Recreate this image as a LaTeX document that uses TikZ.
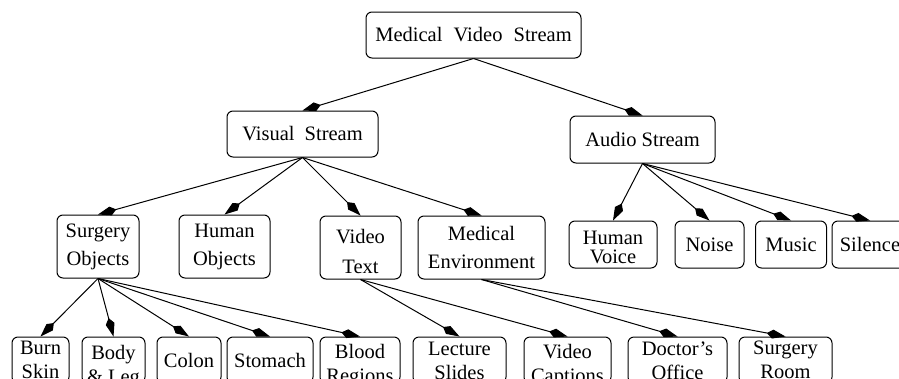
\documentclass[tikz,border=0pt]{standalone}
\usepackage{fontspec}
\setmainfont{Liberation Serif}
\usetikzlibrary{arrows.meta}
\newcommand\bx[7]{\node[box, minimum width=#4pt, minimum height=#5pt, label={[lbl,#6]center:#7}] (#1) at (#2,#3) {};}
\begin{document}
\begin{tikzpicture}[x=1pt,y=-1pt,
  box/.style={draw, line width=1pt, rounded corners=6pt, inner sep=0pt},
  lbl/.style={align=center, font=\fontsize{20.5}{28}\selectfont, inner sep=0pt},
  sp19/.style={font=\fontsize{20.5}{19}\selectfont},
  sp24/.style={font=\fontsize{20.5}{24}\selectfont},
  sp30/.style={font=\fontsize{20.5}{30}\selectfont},
  edge/.style={line width=1pt, -{Kite[length=19pt,width=9pt,inset=6pt]}},
]
\useasboundingbox (0,0) rectangle (899,378);
\clip (0,0) rectangle (899,378);
% level 0
\bx{ms}{473.5}{35}{215}{46}{}{Medical\hspace{6pt} Video\hspace{6pt} Stream}
% level 1
\bx{vs}{302.5}{134}{151}{46}{}{Visual\hspace{5pt} Stream}
\bx{as}{642.5}{139.5}{145}{47}{}{Audio Stream}
% level 2
\bx{so}{98}{246.5}{82}{63}{}{Surgery\\Objects}
\bx{ho}{224.5}{246.5}{91}{63}{}{Human\\Objects}
\bx{vt}{360.5}{247.5}{81}{63}{sp30,yshift=-3.5pt}{Video\\Text}
\bx{me}{481.5}{247.5}{127}{63}{}{Medical\\Environment}
\bx{hv}{613}{244.5}{88}{47}{sp19,yshift=-2.5pt}{Human\\Voice}
\bx{no}{709.5}{244.5}{69}{47}{}{Noise}
\bx{mu}{791}{244.5}{71}{47}{}{Music}
\bx{si}{870}{244.5}{76}{47}{}{Silence}
% level 3
\bx{bs}{40.5}{360}{57}{46}{sp24}{Burn\\Skin}
\bx{bl}{113.5}{360}{63}{46}{sp24,yshift=-7pt}{Body\\\& Leg}
\bx{co}{189}{360}{64}{46}{}{Colon}
\bx{st}{270}{360}{86}{46}{}{Stomach}
\bx{br}{360}{360}{80}{46}{sp24,yshift=-6pt}{Blood\\Regions}
\bx{ls}{459.5}{360}{93}{46}{sp24,yshift=-1pt}{Lecture\\Slides}
\bx{vc}{567.5}{360}{87}{46}{sp24,yshift=-6pt}{Video\\Captions}
\bx{do}{677.5}{360}{99}{46}{sp24,yshift=-1pt}{Doctor's\\Office}
\bx{sr}{785.5}{360}{93}{46}{sp24}{Surgery\\Room}
% edges
\draw[edge] (ms.south) -- (vs.north);
\draw[edge] (ms.south) -- (as.north);
\foreach \c in {so,ho,vt,me} \draw[edge] (vs.south) -- (\c.north);
\foreach \c in {hv,no,mu,si} \draw[edge] (as.south) -- (\c.north);
\foreach \c in {bs,bl,co,st,br} \draw[edge] (so.south) -- (\c.north);
\foreach \c in {ls,vc} \draw[edge] (vt.south) -- (\c.north);
\foreach \c in {do,sr} \draw[edge] (me.south) -- (\c.north);
\end{tikzpicture}
\end{document}
